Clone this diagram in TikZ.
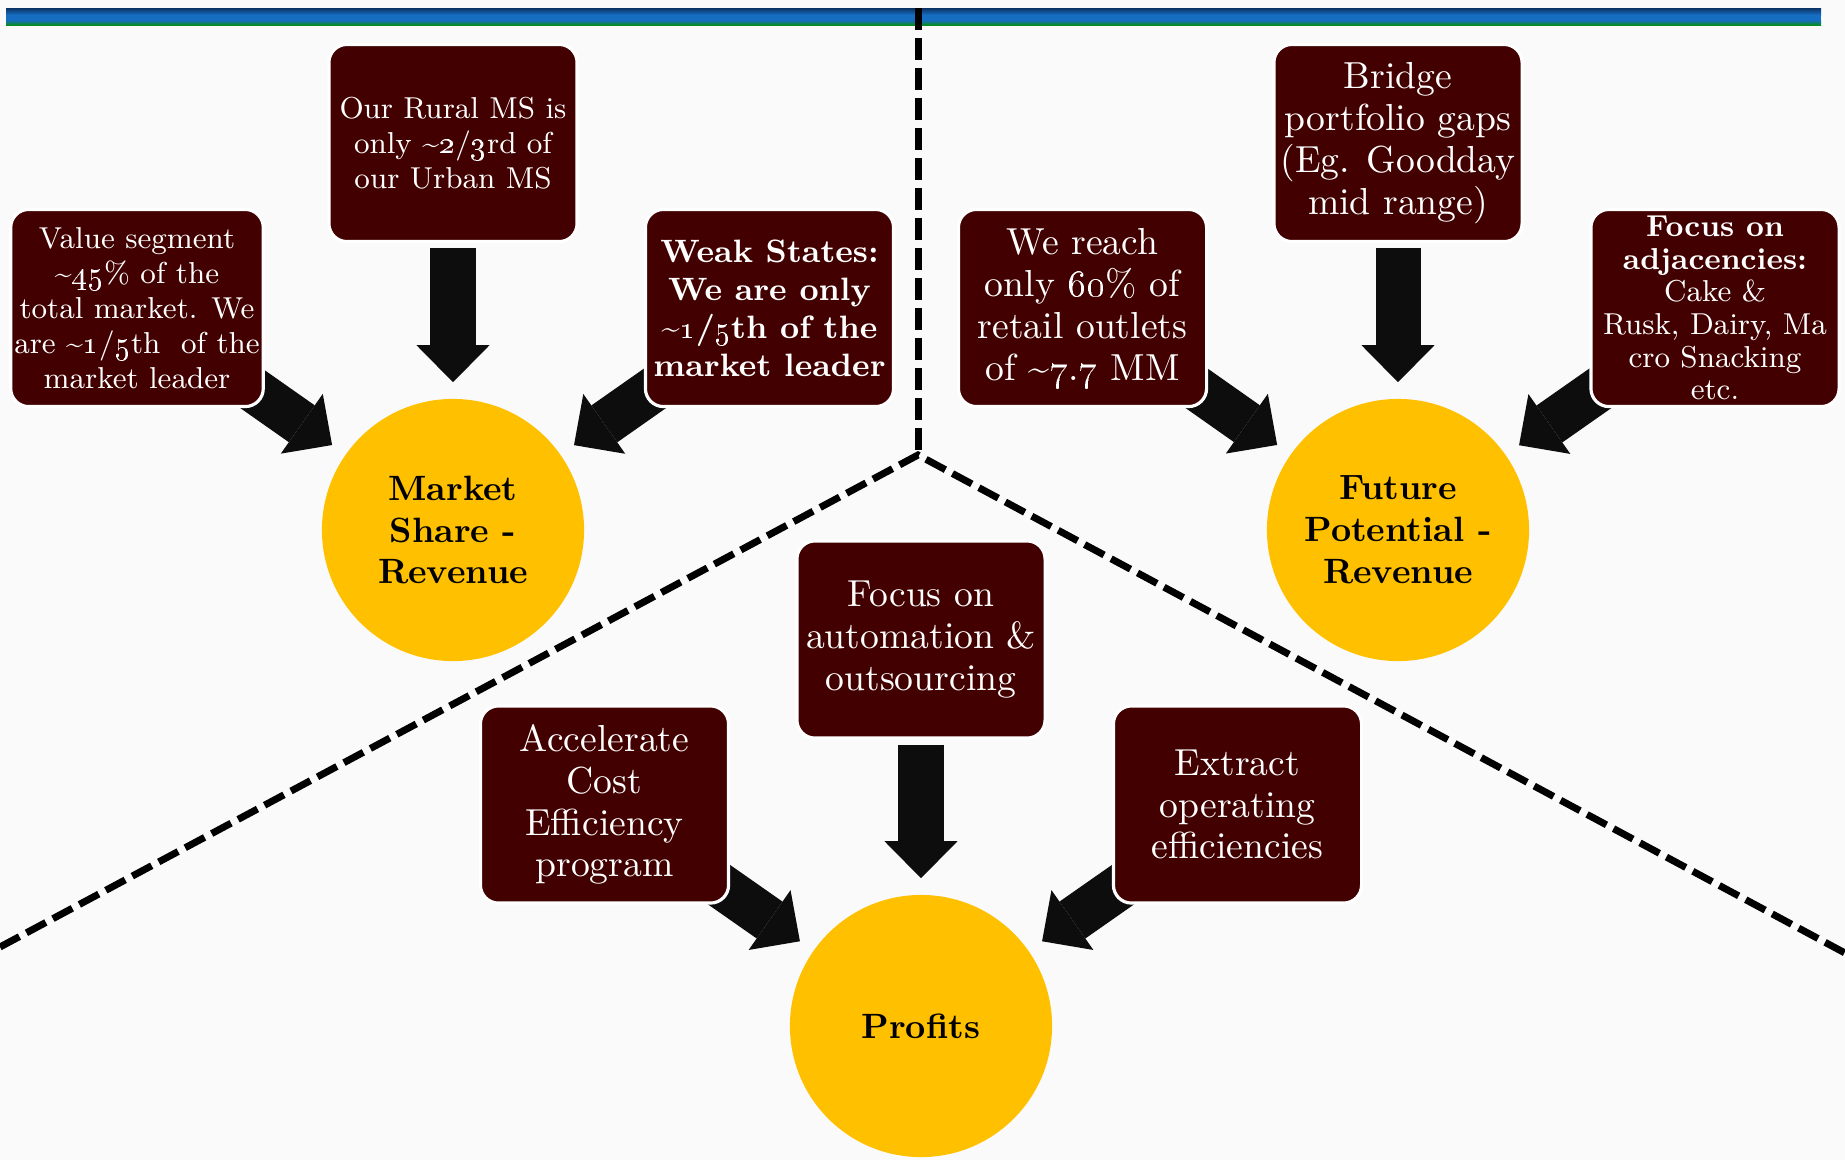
\documentclass[tikz,border=0pt]{standalone}
\usetikzlibrary{arrows.meta,positioning}

\definecolor{leverred}{RGB}{66,0,0}
\definecolor{goalgold}{RGB}{255,192,0}
\definecolor{pushblack}{RGB}{13,13,13}
\definecolor{paper}{RGB}{250,250,250}
\definecolor{barnavy}{RGB}{10,50,100}
\definecolor{barblue}{RGB}{22,110,195}
\definecolor{bargreen}{RGB}{5,140,30}

\pgfdeclarelayer{paperlayer}
\pgfdeclarelayer{pushlayer}
\pgfsetlayers{paperlayer,pushlayer,main}

\newcommand{\osn}[1]{\oldstylenums{#1}}
\newcommand{\tld}{\textasciitilde}

\tikzset{
  lever/.style={rectangle, rounded corners=1.8mm, fill=leverred, draw=white,
    line width=0.9pt, text=white, minimum width=2.48cm, minimum height=1.97cm,
    inner sep=1pt, align=center, font=\fontsize{8.6}{10}\selectfont},
  biglever/.style={lever, font=\fontsize{10.7}{11.9}\selectfont},
  goal/.style={circle, fill=goalgold, minimum size=2.62cm, inner sep=0pt,
    align=center, font=\fontsize{10}{11.9}\selectfont\bfseries},
  push/.style={draw=pushblack, line width=4.5mm,
    -{Triangle[length=3.7mm,width=7.3mm,line width=0pt]}, shorten >=1.6mm},
  divider/.style={draw=black, line width=0.7mm, dash pattern=on 2.2mm off 0.8mm},
}

\begin{document}
\begin{tikzpicture}[x=0.01cm, y=-0.01cm]
 \useasboundingbox (0,0) rectangle (1845,1160);
 \begin{pgfonlayer}{paperlayer}
   \fill[paper] (0,0) rectangle (1845,1160);
   % header band: navy into blue, green at the foot
   \shade[top color=barnavy, bottom color=barblue] (6,8) rectangle (1821,15);
   \fill[barblue] (6,15) rectangle (1821,20);
   \shade[top color=barblue, bottom color=bargreen] (6,20) rectangle (1821,25);
 \end{pgfonlayer}
 %
 \coordinate (hub) at (918,455);
 \coordinate (topend) at (918,8);
 \coordinate (leftend) at (0,947);
 \coordinate (rightend) at (1845,953);
 \draw[divider] (topend) -- (hub);
 \draw[divider] (leftend) -- (hub) -- (rightend);
 %
 \node[goal] (ms) at (453,530) {Market\\Share -\\Revenue};
 \node[goal] (fut) at (1398,530) {Future\\Potential -\\Revenue};
 \node[goal] (prof) at (921,1026) {Profits};
 %
 \node[lever] (rural) at (453,143) {Our Rural MS is\\only \tld\osn{2}/\osn{3}rd of\\our Urban MS};
 \node[lever] (val) at (137,308) {Value segment\\\tld\osn{45}\% of the\\total market. We\\are \tld\osn{1}/\osn{5}th\ \ of the\\market leader};
 \node[lever, font=\fontsize{9.2}{10.8}\selectfont\bfseries] (weak) at (769.5,308)
   {Weak States:\\We are only\\\tld\osn{1}/\osn{5}th of the\\market leader};
 \node[biglever] (reach) at (1082.5,308) {We reach\\only \osn{60}\% of\\retail outlets\\of \tld\osn{7}.\osn{7} MM};
 \node[biglever] (bridge) at (1398,143) {Bridge\\portfolio gaps\\(Eg. Goodday\\mid range)};
 \node[lever, font=\fontsize{8.6}{9.3}\selectfont] (adj) at (1715,308)
   {\textbf{Focus on}\\\textbf{adjacencies:}\\Cake \&\\Rusk, Dairy, Ma\\cro Snacking\\etc.};
 \node[biglever] (auto) at (921,639.5) {Focus on\\automation \&\\outsourcing};
 \node[biglever] (accel) at (604.5,804.5) {Accelerate\\Cost\\Efficiency\\program};
 \node[biglever] (extract) at (1237.5,804.5) {Extract\\operating\\efficiencies};
 %
 \begin{pgfonlayer}{pushlayer}
   \draw[push, shorten <=0.5mm] (rural) -- (ms);
   \draw[push] (val.center) -- (ms);
   \draw[push] (weak.center) -- (ms);
   \draw[push, shorten <=0.5mm] (bridge) -- (fut);
   \draw[push] (reach.center) -- (fut);
   \draw[push] (adj.center) -- (fut);
   \draw[push, shorten <=0.5mm] (auto) -- (prof);
   \draw[push] (accel.center) -- (prof);
   \draw[push] (extract.center) -- (prof);
 \end{pgfonlayer}
\end{tikzpicture}
\end{document}
